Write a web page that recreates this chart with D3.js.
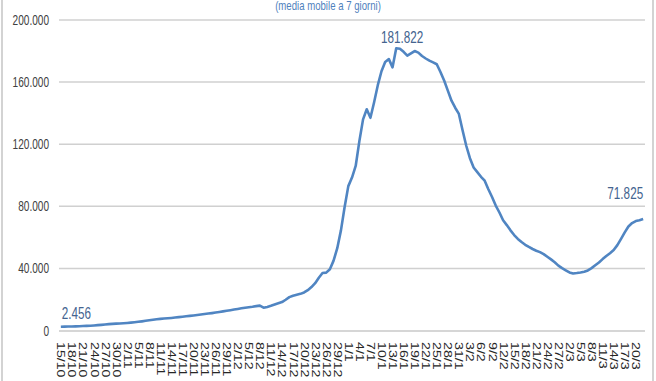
<!DOCTYPE html>
<html><head><meta charset="utf-8">
<script src="https://cdn.jsdelivr.net/npm/d3@7"></script>
<style>html,body{margin:0;padding:0;background:#fff;}svg{display:block;}</style>
</head><body>
<script>
// ---- data ----
const tickLabels = ["15/10","18/10","21/10","24/10","27/10","30/10","2/11","5/11","8/11","11/11","14/11","17/11","20/11","23/11","26/11","29/11","2/12","5/12","8/12","11/12","14/12","17/12","20/12","23/12","26/12","29/12","1/1","4/1","7/1","10/1","13/1","16/1","19/1","22/1","25/1","28/1","31/1","3/2","6/2","9/2","12/2","15/2","18/2","21/2","24/2","27/2","2/3","5/3","8/3","11/3","14/3","17/3","20/3"];
const tickStep = 3;
const cases = [2456,2500,2550,2600,2650,2750,2850,2950,3100,3250,3450,3650,3900,4100,4250,4400,4550,4700,4850,5050,
5300,5600,5900,6250,6600,6950,7250,7500,7700,7900,8100,8350,8600,8850,9150,9400,9700,10000,10300,10600,
10900,11200,11550,11900,12300,12700,13100,13500,13900,14300,14700,15000,15300,15700,16000,14700,15200,15900,16700,17500,
18300,19800,21500,22400,23000,23600,24500,26000,28000,30500,34000,37000,37300,39500,45000,53000,64500,79500,93000,98500,
106000,122000,136000,142500,137000,147000,158000,167000,173000,174800,169500,181822,181500,179500,177000,178500,180000,179000,176800,175200,
173800,172700,171500,166500,161000,154500,148000,143500,139500,129000,119000,111000,105000,102000,99000,96500,91000,86000,80500,76000,
71000,67900,64500,61500,59000,57000,55200,53800,52500,51400,50500,49200,47500,45800,44000,41800,40200,38800,37400,36700,
37000,37400,37900,38700,40200,42000,43800,46000,48000,49800,51800,55000,59000,63200,67000,69200,70500,71000,71825];
const yTicks = [0,40000,80000,120000,160000,200000];
const title = "(media mobile a 7 giorni)";
const labelled = [0, 91, cases.length-1];

// ---- drawing ----
const W = 656, H = 381;
const svg = d3.select("body").append("svg").attr("width", W).attr("height", H);
const FONT = "'Liberation Sans', Arial, sans-serif";
const fmt = v => d3.format(",")(v).replace(/,/g, ".");

const x = d3.scaleBand().domain(d3.range(cases.length)).range([59, 645]);
const cx = i => x(i) + x.bandwidth()/2;
const y = d3.scaleLinear().domain([0, 200000]).range([330.5, 20]);

// frame borders
svg.append("line").attr("x1",2).attr("x2",2).attr("y1",0).attr("y2",H).attr("stroke","#c4c4c4").attr("stroke-width",1.5);
svg.append("line").attr("x1",653).attr("x2",653).attr("y1",0).attr("y2",H).attr("stroke","#c4c4c4").attr("stroke-width",1.5);

// gridlines
svg.append("g").selectAll("line").data(yTicks.filter(d=>d>0)).join("line")
  .attr("x1",59).attr("x2",645).attr("y1",d=>y(d)).attr("y2",d=>y(d))
  .attr("stroke","#d0d0d0").attr("stroke-width",1.5);
// x axis line
svg.append("line").attr("x1",59).attr("x2",645).attr("y1",y(0)+0.5).attr("y2",y(0)+0.5)
  .attr("stroke","#c8c8c8").attr("stroke-width",1.5);

// y labels
svg.append("g").selectAll("text").data(yTicks).join("text")
  .attr("transform", d=>`translate(49,${y(d)+5}) scale(0.72,1)`)
  .attr("text-anchor","end").attr("font-family",FONT).attr("font-size",14)
  .attr("fill","#404040").text(d=>fmt(d));

// x labels
svg.append("g").selectAll("text").data(tickLabels).join("text")
  .attr("transform", (d,i)=>`translate(${cx(i*tickStep)},342) rotate(90) scale(1.42,1)`)
  .attr("dy","0.35em").attr("text-anchor","start").attr("font-family",FONT).attr("font-size",10)
  .attr("fill","#262626").text(d=>d);

// line
const line = d3.line().x((d,i)=>cx(i)).y(d=>y(d)).curve(d3.curveLinear);
svg.append("path").datum(cases).attr("d",line).attr("fill","none")
  .attr("stroke","#5085c2").attr("stroke-width",2.6).attr("stroke-linejoin","round");

// data labels
const lab = svg.append("g");
const placements = {0:{dx:1,dy:-8,a:"start"}, 91:{dx:6,dy:-5,a:"middle"}};
placements[cases.length-1] = {dx:0,dy:-20,a:"end"};
labelled.forEach(i=>{
  const p = placements[i];
  lab.append("text")
    .attr("transform",`translate(${cx(i)+p.dx},${y(cases[i])+p.dy}) scale(0.71,1)`)
    .attr("text-anchor",p.a).attr("font-family",FONT).attr("font-size",16.5)
    .attr("fill","#44648f").text(fmt(cases[i]));
});

// title (kept fully visible at the top edge)
svg.append("text").attr("transform","translate(328,10) scale(0.74,1)")
  .attr("text-anchor","middle").attr("font-family",FONT).attr("font-size",13)
  .attr("fill","#4f81bd").text(title);
</script>
</body></html>
